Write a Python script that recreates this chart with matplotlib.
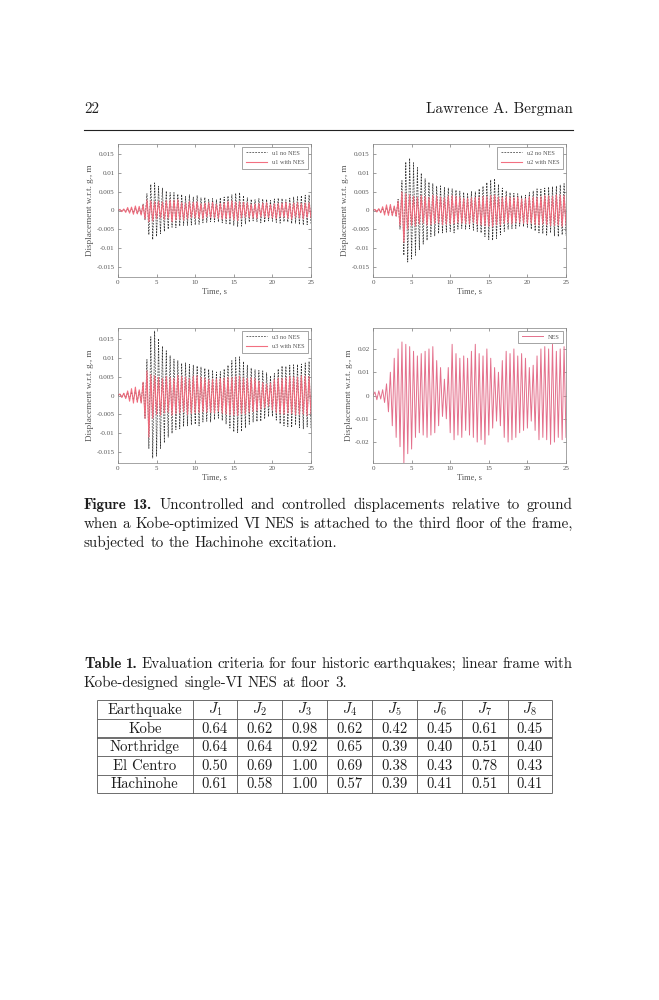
import numpy as np
import matplotlib
matplotlib.use('Agg')
import matplotlib.pyplot as plt
from matplotlib.ticker import FuncFormatter

plt.rcParams['mathtext.fontset'] = 'cm'

# ---------------- data ----------------
DT = 0.25  # s, spacing of the read-off successive extrema

u1_no_nes_mm = [0, 0.2, -0.2, 0.3, -0.3, 0.4, -0.4, 0.5, -0.6, 0.7, -0.8, 0.6,
                -0.9, 1.8, -2.5, 4.5, -6.5, 7.0, -7.8, 7.4, -7.0, 6.5, -6.2, 6.0,
                -5.6, 5.2, -5.0, 4.8, -4.5, 4.8, -4.6, 4.4, -4.2, 4.3, -4.0, 3.8,
                -4.0, 4.2, -3.9, 3.6, -3.8, 4.0, -3.7, 3.4, -3.3, 3.5, -3.2, 3.0,
                -3.0, 3.2, -3.1, 2.9, -3.0, 3.4, -3.3, 3.6, -3.5, 3.9, -3.8, 4.2,
                -4.0, 4.6, -4.3, 4.8, -4.2, 4.0, -3.6, 3.4, -3.1, 3.0, -2.8, 2.9,
                -3.0, 3.2, -3.3, 3.1, -3.2, 3.0, -2.8, 2.7, -2.9, 3.1, -3.2, 3.3,
                -3.4, 3.2, -3.0, 2.9, -3.1, 3.3, -3.5, 3.6, -3.4, 3.7, -3.8, 4.0,
                -3.9, 4.1, -3.8, 4.2, -3.5]
u1_with_nes_mm = [0, 0.3, -0.3, 0.4, -0.5, 0.8, -0.7, 0.9, -1.0, 1.2, -0.9, 1.1,
                  -1.2, 1.5, -2.2, 2.8, -3.0, 2.6, -2.8, 2.4, -2.2, 2.5, -2.0, 2.3,
                  -2.4, 2.6, -2.1, 2.8, -3.0, 2.7, -2.5, 2.9, -2.3, 2.1, -2.6, 2.0,
                  -2.2, 2.4, -1.9, 2.2, -2.0, 2.3, -2.1, 1.8, -2.2, 2.0, -1.7, 2.1,
                  -1.9, 2.2, -2.0, 1.7, -2.1, 1.9, -2.3, 2.0, -2.2, 2.4, -2.1, 2.6,
                  -2.5, 2.3, -2.7, 2.4, -2.0, 2.2, -1.8, 2.1, -1.9, 1.7, -2.0, 1.8,
                  -2.1, 1.9, -1.7, 2.0, -1.8, 2.1, -1.9, 1.6, -2.0, 1.8, -2.2, 1.9,
                  -1.7, 2.0, -1.8, 2.2, -2.1, 1.9, -2.3, 2.0, -1.8, 2.1, -2.0, 1.9,
                  -2.2, 2.0, -1.8, 2.1, -1.9]
u2_no_nes_mm = [0, 0.3, -0.3, 0.4, -0.5, 0.6, -0.7, 0.8, -0.9, 1.0, -1.2, 1.0,
                -1.5, 3.0, -5.0, 8.0, -12.0, 13.0, -13.8, 14.0, -13.0, 12.8, -12.0, 11.5,
                -10.5, 10.0, -9.0, 8.5, -8.0, 7.6, -7.0, 7.2, -6.8, 6.5, -6.2, 6.6,
                -6.0, 6.2, -5.8, 6.0, -5.6, 5.8, -6.0, 5.5, -5.0, 5.2, -4.8, 4.9,
                -5.0, 4.7, -4.9, 5.1, -5.3, 5.0, -5.6, 5.8, -6.0, 6.5, -7.0, 7.5,
                -7.8, 8.2, -8.0, 8.5, -7.5, 7.0, -6.5, 6.0, -5.6, 5.2, -5.0, 4.8,
                -4.9, 4.6, -4.8, 4.5, -4.2, 4.0, -4.3, 4.1, -4.5, 4.8, -5.0, 5.2,
                -5.5, 5.8, -6.0, 5.7, -6.2, 6.0, -6.6, 6.3, -6.0, 6.4, -6.8, 6.5,
                -7.0, 6.8, -6.5, 7.2, -6.8]
u2_with_nes_mm = [0, 0.3, -0.4, 0.5, -0.6, 1.0, -1.2, 1.5, -1.3, 1.6, -1.4, 1.2,
                  -1.5, 2.5, -4.0, 5.0, -8.5, 4.5, -5.0, 4.2, -4.0, 3.8, -4.2, 3.5,
                  -3.6, 4.0, -3.4, 3.7, -3.9, 3.5, -3.8, 4.1, -3.5, 3.9, -3.3, 3.6,
                  -3.8, 3.4, -3.7, 3.9, -3.6, 4.0, -3.5, 3.8, -3.3, 3.6, -3.4, 3.2,
                  -3.5, 3.3, -3.6, 3.4, -3.2, 3.5, -3.7, 3.6, -3.9, 3.8, -4.1, 3.7,
                  -4.2, 4.0, -4.3, 4.1, -3.8, 3.6, -3.9, 3.5, -3.4, 3.7, -3.3, 3.5,
                  -3.6, 3.4, -3.2, 3.6, -3.3, 3.1, -3.4, 3.2, -3.5, 3.7, -3.4, 3.6,
                  -3.8, 3.5, -3.9, 3.7, -3.6, 4.0, -3.8, 3.9, -4.1, 3.8, -4.0, 4.2,
                  -3.9, 4.1, -4.3, 4.0, -3.8]
u3_no_nes_mm = [0, 0.4, -0.4, 0.5, -0.6, 0.8, -0.9, 1.0, -1.2, 1.4, -1.6, 1.3,
                -1.8, 3.5, -6.0, 9.5, -14.0, 15.5, -16.5, 17.0, -16.0, 15.0, -14.0, 13.0,
                -12.5, 11.8, -11.0, 10.5, -10.0, 9.6, -9.0, 9.2, -8.8, 8.5, -8.2, 8.6,
                -8.0, 8.2, -7.8, 8.0, -7.6, 7.8, -8.0, 7.5, -7.0, 7.2, -6.8, 6.9,
                -7.0, 6.7, -6.4, 6.2, -6.0, 6.3, -6.6, 7.0, -7.5, 8.0, -8.6, 9.2,
                -9.6, 10.0, -9.8, 10.2, -9.5, 9.0, -8.5, 8.0, -7.6, 7.2, -7.0, 6.8,
                -6.9, 6.6, -6.8, 6.5, -6.2, 6.0, -5.6, 5.2, -5.5, 5.8, -6.5, 7.0,
                -7.5, 7.8, -8.0, 7.7, -8.2, 8.0, -8.4, 8.1, -7.8, 8.2, -8.5, 8.3,
                -8.8, 8.6, -8.3, 9.0, -8.6]
u3_with_nes_mm = [0, 0.4, -0.5, 0.6, -0.8, 1.2, -1.5, 1.8, -2.0, 2.2, -1.8, 1.5,
                  -2.0, 3.5, -6.0, 6.5, -11.0, 5.5, -6.0, 5.2, -5.0, 4.8, -5.2, 4.5,
                  -4.6, 5.0, -4.4, 4.7, -5.2, 4.5, -4.8, 5.3, -4.6, 5.0, -4.3, 4.8,
                  -5.0, 4.4, -4.7, 5.1, -4.6, 5.2, -4.5, 4.8, -4.3, 4.6, -4.4, 4.2,
                  -4.5, 4.3, -4.6, 4.4, -4.2, 4.5, -4.7, 4.6, -4.9, 4.8, -5.1, 4.7,
                  -5.2, 5.0, -5.3, 5.1, -4.8, 4.6, -4.9, 4.5, -4.4, 4.7, -4.3, 4.5,
                  -4.0, 3.8, -3.6, 3.4, -3.2, 3.0, -2.8, 3.3, -3.8, 4.2, -4.5, 4.6,
                  -4.8, 4.5, -4.9, 4.7, -4.6, 5.0, -4.8, 4.9, -5.1, 4.8, -5.0, 5.2,
                  -4.9, 5.1, -5.3, 5.0, -4.8]
nes_mm = [0, 1.5, -1.8, 2.0, -1.5, 2.5, -3.0, 5.0, -7.0, 10.0, -13.0, 16.0,
          -18.0, 20.0, -22.0, 23.0, -29.0, 22.0, -25.0, 21.0, -23.0, 19.0, -18.0, 17.0,
          -16.0, 18.0, -17.0, 19.0, -18.0, 20.0, -17.0, 21.0, -16.0, 15.0, -13.0, 12.0,
          -9.0, 7.0, -10.0, 12.0, -16.0, 22.0, -19.0, 18.0, -17.0, 16.0, -18.0, 17.0,
          -15.0, 16.0, -17.0, 19.0, -18.0, 22.0, -20.0, 18.0, -19.0, 17.0, -21.0, 20.0,
          -17.0, 16.0, -14.0, 12.0, -11.0, 10.0, -13.0, 15.0, -18.0, 19.0, -20.0, 18.0,
          -19.0, 20.0, -18.0, 17.0, -16.0, 18.0, -15.0, 16.0, -14.0, 12.0, -11.0, 13.0,
          -15.0, 17.0, -19.0, 20.0, -18.0, 21.0, -19.0, 20.0, -21.0, 22.0, -20.0, 19.0,
          -18.0, 20.0, -19.0, 21.0, -18.0]

time_ticks = [0, 5, 10, 15, 20, 25]
u_ticks = [-0.015, -0.01, -0.005, 0, 0.005, 0.01, 0.015]
nes_ticks = [-0.02, -0.01, 0, 0.01, 0.02]

earthquakes = ['Kobe', 'Northridge', 'El Centro', 'Hachinohe']
criteria = [r'$J_{1}$', r'$J_{2}$', r'$J_{3}$', r'$J_{4}$',
            r'$J_{5}$', r'$J_{6}$', r'$J_{7}$', r'$J_{8}$']
J_kobe = [0.64, 0.62, 0.98, 0.62, 0.42, 0.45, 0.61, 0.45]
J_northridge = [0.64, 0.64, 0.92, 0.65, 0.39, 0.40, 0.51, 0.40]
J_elcentro = [0.50, 0.69, 1.00, 0.69, 0.38, 0.43, 0.78, 0.43]
J_hachinohe = [0.61, 0.58, 1.00, 0.57, 0.39, 0.41, 0.51, 0.41]

# ---------------- figure ----------------
W, H = 659, 1000
fig = plt.figure(figsize=(W / 100, H / 100), dpi=100)
page = fig.add_axes([0, 0, 1, 1], zorder=-1)
page.set_xlim(0, W)
page.set_ylim(H, 0)
page.axis('off')

AX_FONT = ['Liberation Serif', 'DejaVu Serif']
AX_COL = '#555555'


def px_axes(x0, y0, x1, y1):
    return fig.add_axes([x0 / W, 1 - y1 / H, (x1 - x0) / W, (y1 - y0) / H])


def style(ax, ylim, yticks):
    ax.set_xlim(0, 25)
    ax.set_ylim(-ylim, ylim)
    ax.set_xticks(time_ticks)
    ax.set_yticks(yticks)
    ax.yaxis.set_major_formatter(FuncFormatter(lambda v, p: '%g' % v))
    ax.tick_params(direction='in', length=2, width=0.4, labelsize=5.0,
                   colors=AX_COL, top=True, right=True, pad=2.5)
    for lab in ax.get_xticklabels() + ax.get_yticklabels():
        lab.set_family(AX_FONT)
    for s in ax.spines.values():
        s.set_linewidth(0.5)
        s.set_color('#808080')
    ax.set_xlabel('Time, s', fontsize=6.0, color=AX_COL, labelpad=1.5, family=AX_FONT)
    ax.set_ylabel('Displacement w.r.t. g., m', fontsize=6.6, color=AX_COL,
                  labelpad=1.5, family=AX_FONT)


def legend(ax):
    leg = ax.legend(loc='upper right', frameon=True, fancybox=False,
                    edgecolor='#808080', framealpha=1, handlelength=3.4,
                    borderpad=0.55, labelspacing=0.65, borderaxespad=0.45,
                    prop={'family': AX_FONT, 'size': 4.5})
    leg.get_frame().set_linewidth(0.5)
    for txt in leg.get_texts():
        txt.set_color(AX_COL)


BLACK = '#333333'
RED = '#f2687a'

pairs = [
    ((118, 144, 311, 277), u1_no_nes_mm, u1_with_nes_mm, 'u1'),
    ((373, 144, 566, 277), u2_no_nes_mm, u2_with_nes_mm, 'u2'),
    ((118, 328, 311, 463), u3_no_nes_mm, u3_with_nes_mm, 'u3'),
]
for box, unc, con, name in pairs:
    ax = px_axes(*box)
    t_unc = np.arange(len(unc)) * DT
    t_con = np.arange(len(con)) * DT
    ax.plot(t_unc, np.array(unc) * 1e-3, color=BLACK, lw=0.5,
            ls=(0, (2.6, 1.6)), label=f'{name} no NES')
    ax.plot(t_con, np.array(con) * 1e-3, color=RED, lw=0.8, alpha=0.95,
            label=f'{name} with NES')
    style(ax, 0.0178, u_ticks)
    legend(ax)

ax = px_axes(373, 328, 566, 463)
t_nes = np.arange(len(nes_mm)) * DT
ax.plot(t_nes, np.array(nes_mm) * 1e-3, color='#e4708c', lw=0.7, label='NES')
style(ax, 0.029, nes_ticks)
legend(ax)

# ---------------- page text ----------------
renderer = fig.canvas.get_renderer()
REG = ['cmr10', 'DejaVu Serif']
BOLD = ['cmb10', 'DejaVu Serif']
FS = 10.85
FS_TAB = 10.6
TXT = '#1e1e1e'
X0, X1 = 84, 573


def text_line(tokens, y, justify=True, x0=X0, x1=X1, fs=FS):
    objs = [page.text(0, y, w, fontsize=fs, family=f, va='baseline', ha='left',
                      color=TXT) for w, f in tokens]
    widths = [o.get_window_extent(renderer).width for o in objs]
    if justify and len(objs) > 1:
        gap = (x1 - x0 - sum(widths)) / (len(objs) - 1)
    else:
        gap = 0.333 * fs * 100 / 72
    x = x0
    for o, w in zip(objs, widths):
        o.set_x(x)
        x += w + gap


def words(s, fam=REG):
    return [(w, fam) for w in s.split(' ')]


# header
page.text(X0, 113, '22', fontsize=FS, family=REG, va='baseline', ha='left', color=TXT)
page.text(X1, 113, 'Lawrence A. Bergman', fontsize=FS, family=REG, va='baseline',
          ha='right', color=TXT)
page.plot([X0, X1], [130, 130], color='#222222', lw=0.8)

# figure caption
text_line(words('Figure 13.', BOLD) +
          words('Uncontrolled and controlled displacements relative to ground'), 509)
text_line(words('when a Kobe-optimized VI NES is attached to the third floor of the frame,'), 528)
text_line(words('subjected to the Hachinohe excitation.'), 547, justify=False)

# table caption
text_line(words('Table 1.', BOLD) +
          words('Evaluation criteria for four historic earthquakes; linear frame with'), 668)
text_line(words('Kobe-designed single-VI NES at floor 3.'), 687, justify=False)

# table
cols_x = [97, 192.5, 237, 282, 327, 372, 417, 462, 507.5, 552]
rows_y = [700, 719, 737.5, 756, 774.5, 793]
LC = '#555555'
for i, y in enumerate(rows_y):
    page.plot([cols_x[0], cols_x[-1]], [y, y], color=LC,
              lw=1.2 if i == 2 else 0.6, solid_capstyle='butt')
for x in cols_x:
    page.plot([x, x], [rows_y[0], rows_y[-1]], color=LC, lw=0.6, solid_capstyle='butt')

table_rows = [['Earthquake'] + criteria]
for name, vals in zip(earthquakes, [J_kobe, J_northridge, J_elcentro, J_hachinohe]):
    table_rows.append([name] + ['%.2f' % v for v in vals])

for r, row in enumerate(table_rows):
    yb = (rows_y[r] + rows_y[r + 1]) / 2 + 4.3
    for c, cell in enumerate(row):
        xc = (cols_x[c] + cols_x[c + 1]) / 2
        page.text(xc, yb, cell, fontsize=FS_TAB, family=REG, va='baseline',
                  ha='center', color=TXT)

fig.savefig('out.png', dpi=100)
